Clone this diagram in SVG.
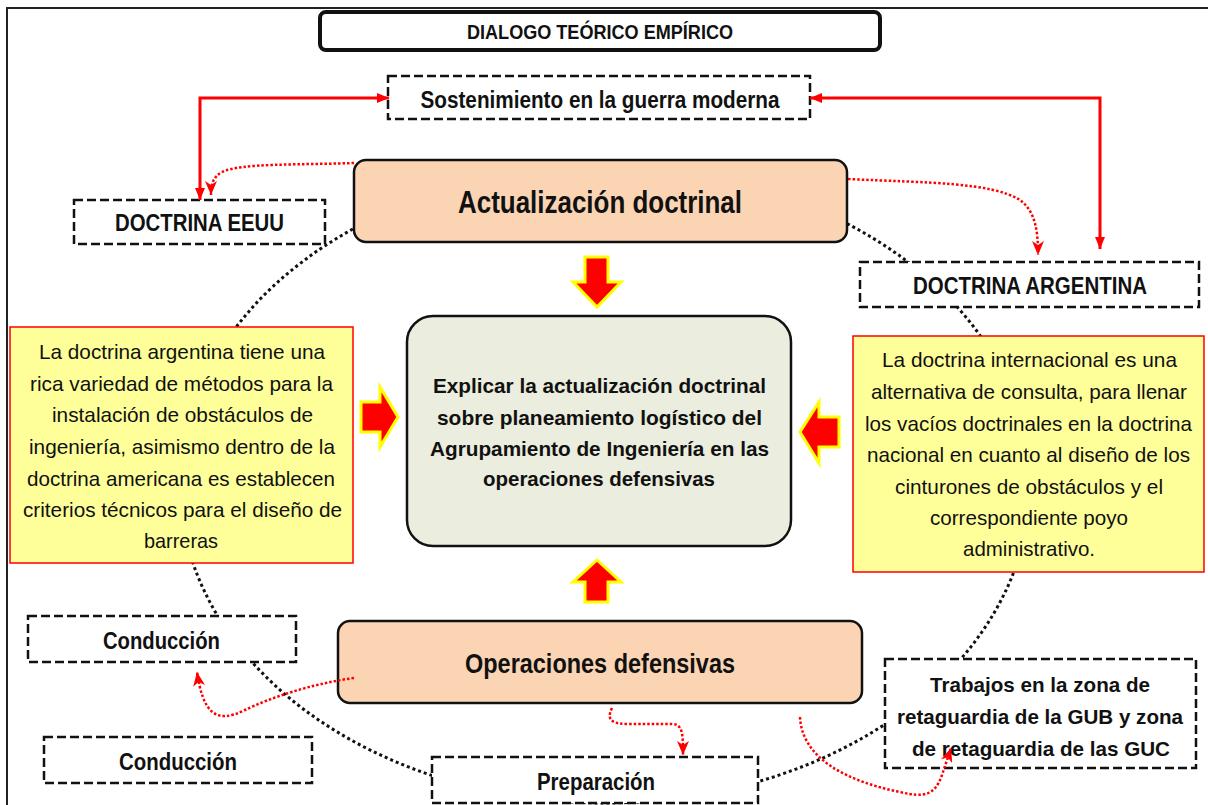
<svg xmlns="http://www.w3.org/2000/svg" width="1208" height="805" viewBox="0 0 1208 805">
<style>
text{font-family:"Liberation Sans Narrow","Liberation Sans",Arial,sans-serif;fill:#111;text-anchor:middle}
.b{font-weight:bold}
.n{font-size:21px}
.dash{fill:#fff;stroke:#111;stroke-width:2.5;stroke-dasharray:9 4}
.note{fill:#FFFF99;stroke:#FF0000;stroke-width:1.5}
.peach{fill:#FBD4B4;stroke:#111;stroke-width:2.5}
.blk{fill:#FF0000;stroke:#FFFF00;stroke-width:3;stroke-linejoin:miter}
.solid{fill:none;stroke:#FF0000;stroke-width:3}
.dot{fill:none;stroke:#FF0000;stroke-width:2.5;stroke-dasharray:2.5 2}
</style>
<defs>
<marker id="tri" viewBox="0 0 12 10" refX="12" refY="5" markerWidth="12" markerHeight="10" markerUnits="userSpaceOnUse" orient="auto-start-reverse">
<path d="M0,0 L12,5 L0,10 z" fill="#FF0000"/>
</marker>
<marker id="vee" viewBox="0 0 14 12" refX="14" refY="6" markerWidth="14" markerHeight="12" markerUnits="userSpaceOnUse" orient="auto">
<path d="M0,0 L14,6 L0,12 L4,6 z" fill="#FF0000" stroke="none"/>
</marker>
</defs>
<rect x="7" y="8" width="1220" height="820" fill="#fff" stroke="#222" stroke-width="2"/>
<g id="cycle">
<ellipse cx="605" cy="485" rx="425" ry="318" fill="none" stroke="#111" stroke-width="3" stroke-dasharray="3 3"/>
</g>
<g id="title">
<rect x="320" y="12" width="560" height="38" rx="6" fill="#fff" stroke="#111" stroke-width="4"/>
<text class="b" x="600" y="39" font-size="20" textLength="266" lengthAdjust="spacingAndGlyphs">DIALOGO TEÓRICO EMPÍRICO</text>
</g>
<g id="sostenimiento">
<rect class="dash" x="388" y="76" width="422" height="43"/>
<text class="b" x="600" y="108" font-size="23" textLength="359" lengthAdjust="spacingAndGlyphs">Sostenimiento en la guerra moderna</text>
</g>
<g id="doctrina-eeuu">
<rect class="dash" x="74" y="200" width="251" height="44"/>
<text class="b" x="199.5" y="231" font-size="23" textLength="169" lengthAdjust="spacingAndGlyphs">DOCTRINA EEUU</text>
</g>
<g id="actualizacion">
<rect class="peach" x="354" y="160" width="493" height="82" rx="12"/>
<text class="b" x="600" y="213" font-size="31" textLength="284" lengthAdjust="spacingAndGlyphs">Actualización doctrinal</text>
</g>
<g id="doctrina-argentina">
<rect class="dash" x="860" y="262" width="339" height="45"/>
<text class="b" x="1030" y="294" font-size="23" textLength="234" lengthAdjust="spacingAndGlyphs">DOCTRINA ARGENTINA</text>
</g>
<g id="nota-izquierda">
<rect class="note" x="10" y="327" width="343" height="236"/>
<text class="n" x="182" y="359" textLength="286" lengthAdjust="spacingAndGlyphs">La doctrina argentina tiene una</text>
<text class="n" x="181.5" y="391" textLength="303" lengthAdjust="spacingAndGlyphs">rica variedad de métodos para la</text>
<text class="n" x="182.5" y="422" textLength="261" lengthAdjust="spacingAndGlyphs">instalación de obstáculos de</text>
<text class="n" x="182" y="454" textLength="306" lengthAdjust="spacingAndGlyphs">ingeniería, asimismo dentro de la</text>
<text class="n" x="181" y="486" textLength="308" lengthAdjust="spacingAndGlyphs">doctrina americana es establecen</text>
<text class="n" x="182.5" y="517" textLength="319" lengthAdjust="spacingAndGlyphs">criterios técnicos para el diseño de</text>
<text class="n" x="181" y="548" textLength="74" lengthAdjust="spacingAndGlyphs">barreras</text>
</g>
<g id="nota-derecha">
<rect class="note" x="853" y="336" width="351" height="236"/>
<text class="n" x="1029.5" y="367" textLength="295" lengthAdjust="spacingAndGlyphs">La doctrina internacional es una</text>
<text class="n" x="1029" y="399" textLength="316" lengthAdjust="spacingAndGlyphs">alternativa de consulta, para llenar</text>
<text class="n" x="1028.5" y="431" textLength="327" lengthAdjust="spacingAndGlyphs">los vacíos doctrinales en la doctrina</text>
<text class="n" x="1028.5" y="462" textLength="323" lengthAdjust="spacingAndGlyphs">nacional en cuanto al diseño de los</text>
<text class="n" x="1029" y="494" textLength="268" lengthAdjust="spacingAndGlyphs">cinturones de obstáculos y el</text>
<text class="n" x="1029" y="525" textLength="198" lengthAdjust="spacingAndGlyphs">correspondiente poyo</text>
<text class="n" x="1029" y="556" textLength="132" lengthAdjust="spacingAndGlyphs">administrativo.</text>
</g>
<g id="objetivo">
<rect x="407" y="316" width="384" height="230" rx="26" fill="#EBEDDE" stroke="#111" stroke-width="2.5"/>
<text class="b" font-size="21" x="599.5" y="393" textLength="333" lengthAdjust="spacingAndGlyphs">Explicar la actualización doctrinal</text>
<text class="b" font-size="21" x="599.5" y="425" textLength="325" lengthAdjust="spacingAndGlyphs">sobre planeamiento logístico del</text>
<text class="b" font-size="21" x="599.5" y="456" textLength="339" lengthAdjust="spacingAndGlyphs">Agrupamiento de Ingeniería en las</text>
<text class="b" font-size="21" x="599" y="486" textLength="232" lengthAdjust="spacingAndGlyphs">operaciones defensivas</text>
</g>
<g id="operaciones">
<rect class="peach" x="338" y="621" width="524" height="82" rx="12"/>
<text class="b" x="600" y="673" font-size="28" textLength="270" lengthAdjust="spacingAndGlyphs">Operaciones defensivas</text>
</g>
<g id="conduccion-1">
<rect class="dash" x="28" y="616" width="268" height="46"/>
<text class="b" x="161.5" y="649" font-size="23" textLength="117" lengthAdjust="spacingAndGlyphs">Conducción</text>
</g>
<g id="conduccion-2">
<rect class="dash" x="44" y="737" width="268" height="46"/>
<text class="b" x="178" y="770" font-size="23" textLength="118" lengthAdjust="spacingAndGlyphs">Conducción</text>
</g>
<g id="preparacion">
<rect class="dash" x="432" y="757" width="326" height="46"/>
<text class="b" x="596" y="790" font-size="23" textLength="118" lengthAdjust="spacingAndGlyphs">Preparación</text>
</g>
<g id="trabajos">
<rect class="dash" x="885" y="659" width="311" height="109"/>
<text class="b" x="1040" y="692" font-size="21" textLength="220" lengthAdjust="spacingAndGlyphs">Trabajos en la zona de</text>
<text class="b" x="1040" y="724" font-size="21" textLength="286" lengthAdjust="spacingAndGlyphs">retaguardia de la GUB y zona</text>
<text class="b" x="1041" y="756" font-size="21" textLength="258" lengthAdjust="spacingAndGlyphs">de retaguardia de las GUC</text>
</g>
<g id="connectors">
<polygon class="blk" points="585,257 608,257 608,282 621,282 597,307 573,282 585,282"/>
<polygon class="blk" points="597,560 621,582 608,582 608,602 585,602 585,582 573,582"/>
<polygon class="blk" points="361,402 380,402 380,387 398,417 380,447 380,432 361,432"/>
<polygon class="blk" points="839,417 819,417 819,402 800,432 819,463 819,447 839,447"/>
<path class="solid" d="M389,98 L200,98 L200,200" marker-start="url(#tri)" marker-end="url(#tri)"/>
<path class="solid" d="M810,98 L1100,98 L1100,249" marker-start="url(#tri)" marker-end="url(#tri)"/>
<path class="dot" d="M354,163 C300,165 240,163 222,172 C213,177 211,184 211,195" marker-end="url(#vee)"/>
<path class="dot" d="M848,179 C930,183 990,182 1020,200 C1036,212 1038,232 1038,255" marker-end="url(#vee)"/>
<path class="dot" d="M354,678 C310,684 270,698 245,710 C215,725 203,712 197,672" marker-end="url(#vee)"/>
<path class="dot" d="M612,708 C605,722 615,724 630,724 L672,724 C683,724 683,735 683,755" marker-end="url(#vee)"/>
<path class="dot" d="M800,717 C802,760 850,782 900,792 C925,798 935,795 942,775 L951,748" marker-end="url(#vee)"/>
</g>
</svg>
